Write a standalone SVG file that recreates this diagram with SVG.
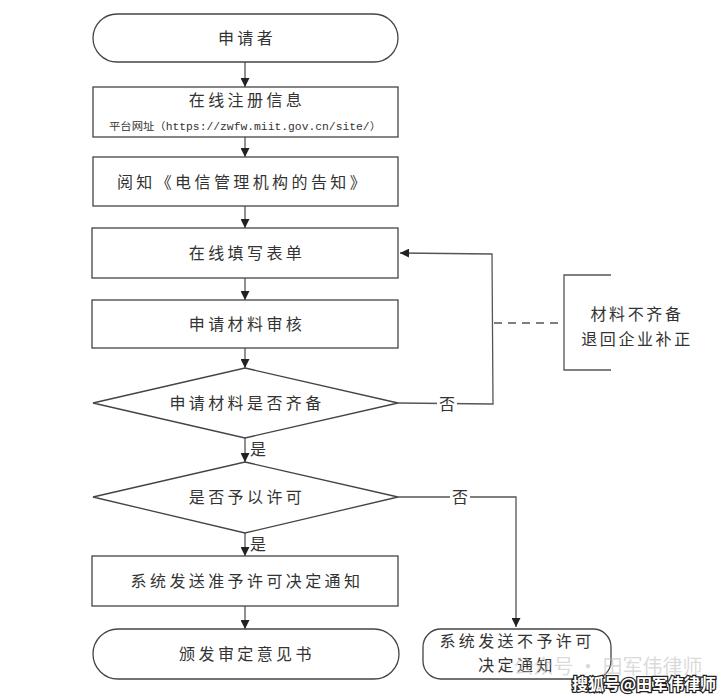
<svg xmlns="http://www.w3.org/2000/svg" width="728" height="698" viewBox="0 0 728 698">
<defs>
<marker id="arr" viewBox="0 0 10 10" refX="10" refY="5" markerWidth="9" markerHeight="9" markerUnits="userSpaceOnUse" orient="auto">
<path d="M0,0 L10,5 L0,10 z" fill="#222"/>
</marker>
<style>
.shape{fill:#fff;stroke:#444;stroke-width:1.3}
.t{font-family:"Noto Sans CJK SC","Noto Sans",sans-serif;font-size:16px;fill:#333;text-anchor:middle;letter-spacing:3.4px}
.u{font-family:"Liberation Mono","Noto Sans CJK SC",monospace;font-size:10.5px;fill:#333;text-anchor:middle}
.l{font-family:"Noto Sans CJK SC",sans-serif;font-size:16px;fill:#333;text-anchor:middle}
.c{fill:none;stroke:#555;stroke-width:1.3}
</style>
</defs>
<rect width="728" height="698" fill="#fff"/>
<g id="connectors">
<line class="c" x1="245" y1="62" x2="245" y2="87" marker-end="url(#arr)"/>
<line class="c" x1="245" y1="137" x2="245" y2="157" marker-end="url(#arr)"/>
<line class="c" x1="245" y1="206" x2="245" y2="228" marker-end="url(#arr)"/>
<line class="c" x1="245" y1="278" x2="245" y2="300" marker-end="url(#arr)"/>
<line class="c" x1="245" y1="348" x2="245" y2="368" marker-end="url(#arr)"/>
<line class="c" x1="245" y1="438" x2="245" y2="462" marker-end="url(#arr)"/>
<line class="c" x1="245" y1="533" x2="245" y2="556" marker-end="url(#arr)"/>
<line class="c" x1="245" y1="606" x2="245" y2="629" marker-end="url(#arr)"/>
<polyline class="c" points="398,403 493,404 492,254 400,253" marker-end="url(#arr)"/>
<polyline class="c" points="398,497 516,497 516,627" marker-end="url(#arr)"/>
<line x1="494" y1="323" x2="564" y2="323" stroke="#555" stroke-width="1.6" stroke-dasharray="8,6"/>
<rect x="437" y="395" width="20" height="18" fill="#fff"/>
<text class="l" x="447" y="410">否</text>
<rect x="450" y="489" width="20" height="17" fill="#fff"/>
<text class="l" x="460" y="503">否</text>
<text class="l" x="258" y="455">是</text>
<text class="l" x="258" y="550">是</text>
</g>
<g id="n_applicant">
<rect class="shape" x="93" y="14" width="305" height="48" rx="24"/>
<text class="t" x="247" y="44">申请者</text>
</g>
<g id="n_register">
<rect class="shape" x="93" y="87" width="305" height="50"/>
<text class="t" x="247" y="106">在线注册信息</text>
<text class="u" x="245" y="130" textLength="272" lengthAdjust="spacingAndGlyphs">平台网址（https://zwfw.miit.gov.cn/site/）</text>
</g>
<g id="n_read">
<rect class="shape" x="93" y="157" width="305" height="49"/>
<text class="t" x="243" y="188">阅知《电信管理机构的告知》</text>
</g>
<g id="n_fill">
<rect class="shape" x="92" y="228" width="306" height="50"/>
<text class="t" x="247" y="259">在线填写表单</text>
</g>
<g id="n_review">
<rect class="shape" x="92" y="300" width="306" height="48"/>
<text class="t" x="247" y="330">申请材料审核</text>
</g>
<g id="n_complete">
<polygon class="shape" points="245,368 398,403 245,438 93,403"/>
<text class="t" x="247" y="409">申请材料是否齐备</text>
</g>
<g id="n_permit">
<polygon class="shape" points="245,462 398,497 245,533 93,497"/>
<text class="t" x="247" y="503">是否予以许可</text>
</g>
<g id="n_grant">
<rect class="shape" x="92" y="556" width="306" height="50"/>
<text class="t" x="247" y="587">系统发送准予许可决定通知</text>
</g>
<g id="n_issue">
<rect class="shape" x="93" y="629" width="306" height="50" rx="25"/>
<text class="t" x="247" y="660">颁发审定意见书</text>
</g>
<g id="n_deny">
<rect class="shape" x="423" y="629" width="188" height="50" rx="18"/>
<text class="t" x="517" y="647">系统发送不予许可</text>
<text class="t" x="517" y="671">决定通知</text>
</g>
<g id="n_note">
<polyline fill="none" stroke="#555" stroke-width="1.3" points="611,275 564,275 564,370 611,370"/>
<text class="t" x="637" y="320" style="letter-spacing:2.6px">材料不齐备</text>
<text class="t" x="637" y="345" style="letter-spacing:2.6px">退回企业补正</text>
</g>
<g id="watermark">
<text x="608" y="674" font-family="Noto Sans CJK SC,sans-serif" font-size="20" fill="#bbb" fill-opacity="0.55" text-anchor="middle">公众号 · 田军伟律师</text>
<text x="644" y="690" font-family="Noto Sans CJK SC,sans-serif" font-size="16" font-weight="bold" fill="#fff" stroke="#222" stroke-width="2.5" paint-order="stroke" text-anchor="middle">搜狐号@田军伟律师</text>
</g>
</svg>
